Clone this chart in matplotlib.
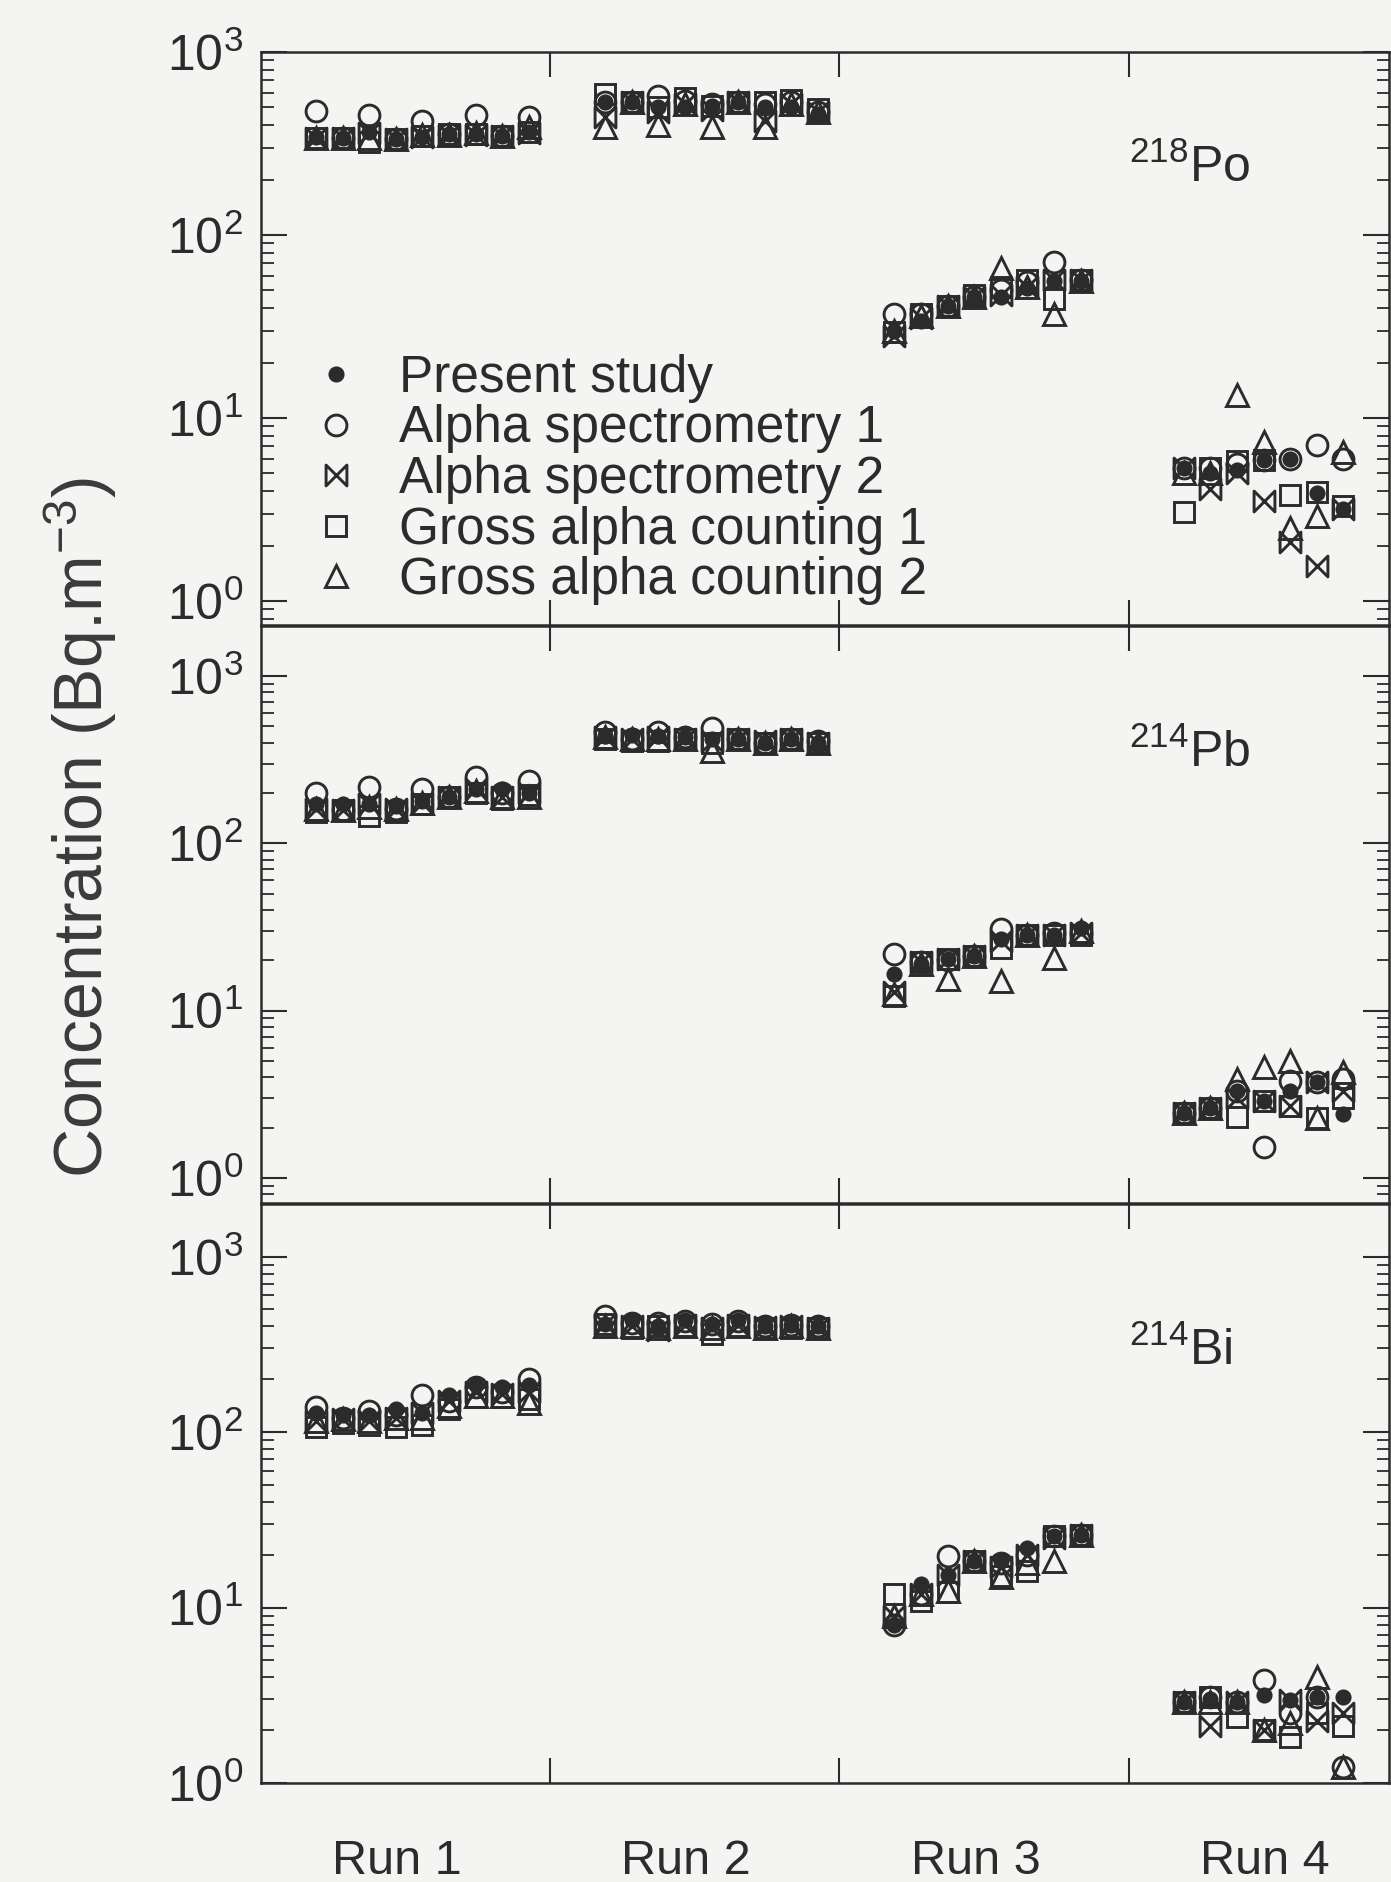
import numpy as np
import matplotlib
matplotlib.use("Agg")
import matplotlib.pyplot as plt
from matplotlib.path import Path
from matplotlib.ticker import LogLocator, NullFormatter, FixedLocator

plt.rcParams['font.family'] = ['Liberation Sans', 'DejaVu Sans']
plt.rcParams['mathtext.fontset'] = 'custom'
plt.rcParams['mathtext.rm'] = 'Liberation Sans'
plt.rcParams['mathtext.it'] = 'Liberation Sans'
plt.rcParams['mathtext.bf'] = 'Liberation Sans:bold'

# runs and number of samples in each run
runs = ["Run 1", "Run 2", "Run 3", "Run 4"]
n_samples = [9, 9, 8, 7]
methods = ["Present study", "Alpha spectrometry 1", "Alpha spectrometry 2",
           "Gross alpha counting 1", "Gross alpha counting 2"]

# 218Po (Bq/m3), runs 1-4 one after another
po218_present = [345, 338, 364, 333, 345, 355, 355, 347, 364,
                 535, 535, 500, 500, 505, 535, 500, 500, 460,
                 30, 34, 41, 46, 46, 51, 56, 56,
                 5.3, 5.0, 5.2, 5.9, 6.0, 3.9, 3.2]
po218_alpha1 = [474, 338, 452, 333, 420, 355, 452, 347, 441,
                535, 535, 575, 540, 520, 535, 520, 530, 470,
                37, 37, 41, 46, 50, 55, 71, 57,
                5.3, 5.3, 5.6, 5.9, 6.0, 7.1, 6.0]
po218_alpha2 = [340, 338, 360, 335, 345, 350, 350, 347, 360,
                441, 530, 470, 520, 480, 530, 420, 520, 470,
                28, 35, 41, 46, 47, 52, 57, 57,
                5.3, 4.1, 5.0, 3.5, 2.1, 1.56, 3.2]
po218_gross1 = [338, 338, 322, 333, 347, 355, 355, 347, 364,
                589, 535, 500, 560, 505, 535, 535, 548, 490,
                29.4, 37, 41, 46.7, 52, 56.5, 44.8, 56.5,
                3.06, 5.3, 5.8, 5.9, 3.8, 3.95, 3.3]
po218_gross2 = [338, 338, 340, 333, 350, 350, 360, 347, 390,
                391, 530, 400, 520, 391, 530, 391, 520, 470,
                30, 36, 41, 46, 65.6, 52, 37, 56,
                5.0, 5.0, 13.4, 7.4, 2.5, 2.9, 6.55]

# 214Pb
pb214_present = [171, 171, 171, 167, 180, 190, 210, 211, 200,
                 440, 442, 440, 430, 420, 419, 400, 419, 400,
                 16.5, 19, 20.3, 21.2, 26.7, 28.5, 28.5, 31,
                 2.43, 2.6, 3.3, 2.9, 3.3, 3.75, 2.4]
pb214_alpha1 = [200, 158, 217, 160, 211, 190, 248, 200, 235,
                466, 420, 466, 430, 490, 420, 400, 420, 410,
                21.7, 19.4, 20, 21.2, 30.6, 28.5, 29, 29,
                2.43, 2.6, 3.3, 1.54, 3.8, 3.75, 3.9]
pb214_alpha2 = [160, 158, 171, 160, 175, 190, 210, 190, 200,
                430, 420, 430, 420, 410, 420, 410, 420, 400,
                13, 19.4, 20.3, 21.2, 26, 28.5, 28.5, 29,
                2.43, 2.6, 3.0, 2.9, 2.7, 3.75, 3.3]
pb214_gross1 = [154, 158, 146, 154, 171, 190, 200, 185, 195,
                419, 408, 408, 419, 398, 419, 398, 419, 400,
                12.3, 19.4, 20.3, 21.2, 23.8, 28.5, 28.5, 28.5,
                2.43, 2.6, 2.32, 2.9, 2.7, 2.27, 3.0]
pb214_gross2 = [160, 158, 165, 160, 175, 190, 205, 190, 190,
                430, 420, 420, 420, 358, 420, 400, 420, 400,
                12.6, 19, 15.4, 21.2, 15.1, 28.5, 20.7, 30,
                2.43, 2.6, 3.9, 4.6, 5.0, 2.27, 4.3]

# 214Bi
bi214_present = [128, 125, 125, 135, 128, 162, 185, 180, 185,
                 413, 435, 403, 435, 413, 435, 400, 410, 400,
                 8.0, 13.6, 15.4, 18.4, 18.4, 21.9, 25.5, 26,
                 2.9, 3.0, 2.9, 3.16, 2.96, 3.1, 3.1]
bi214_alpha1 = [139, 120, 132, 125, 162, 150, 180, 170, 200,
                458, 420, 420, 430, 413, 430, 400, 410, 400,
                8.0, 12, 19.6, 18.4, 18, 20, 25.5, 26,
                2.9, 3.1, 2.9, 3.84, 2.5, 3.1, 1.24]
bi214_alpha2 = [115, 118, 115, 120, 128, 150, 170, 165, 170,
                413, 400, 380, 410, 390, 410, 395, 400, 390,
                9.0, 12, 15.4, 18.4, 17, 20, 25, 26,
                2.9, 2.1, 2.9, 2.0, 2.96, 2.27, 2.5]
bi214_gross1 = [107, 113, 110, 107, 110, 135, 158, 158, 154,
                413, 393, 403, 403, 363, 403, 393, 393, 390,
                11.9, 10.9, 12.2, 18.4, 15.1, 16.1, 25.5, 26,
                2.9, 3.1, 2.38, 2.0, 1.83, 2.5, 2.1]
bi214_gross2 = [115, 118, 115, 120, 120, 140, 160, 160, 146,
                400, 400, 390, 400, 390, 400, 390, 400, 390,
                9.0, 12, 12.4, 18.4, 15, 18, 18.4, 26,
                2.9, 2.9, 2.9, 2.0, 2.2, 4.0, 1.24]

ink = "#2b2b2b"
paper = "#f4f4f2"

# bowtie marker (two triangles tip to tip)
bowtie = Path([(-1, -1), (-1, 1), (1, -1), (1, 1), (-1, -1)],
              [Path.MOVETO, Path.LINETO, Path.LINETO, Path.LINETO, Path.CLOSEPOLY])
styles = [("o", 9.5, ink), ("o", 15, "none"), (bowtie, 15, "none"),
          ("s", 15, "none"), ("^", 15.5, "none")]

# sample positions inside each run
xpos = np.concatenate([r + 0.19 + 0.092 * np.arange(n) for r, n in enumerate(n_samples)])

fig = plt.figure(figsize=(13.91, 18.82), dpi=100, facecolor=paper)

panels = [
    ([0.1876, 0.6679, 0.811, 0.3045], (10 ** -0.131, 1e3),
     [po218_present, po218_alpha1, po218_alpha2, po218_gross1, po218_gross2],
     r"$^{218}$Po", 195),
    ([0.1876, 0.3608, 0.811, 0.3066], (10 ** -0.15, 10 ** 3.30),
     [pb214_present, pb214_alpha1, pb214_alpha2, pb214_gross1, pb214_gross2],
     r"$^{214}$Pb", 285),
    ([0.1876, 0.0526, 0.811, 0.3077], (1, 10 ** 3.30),
     [bi214_present, bi214_alpha1, bi214_alpha2, bi214_gross1, bi214_gross2],
     r"$^{214}$Bi", 240),
]

axes = []
for i, (pos, ylim, series, label, label_y) in enumerate(panels):
    ax = fig.add_axes(pos, facecolor=paper)
    for vals, name, (mk, ms, fc) in zip(series, methods, styles):
        ax.plot(xpos, vals, linestyle="none", marker=mk, ms=ms, mfc=fc,
                mec=ink, mew=2.1, label=name)
    ax.set_yscale("log")
    ax.set_ylim(*ylim)
    ax.set_xlim(0, 3.9)
    ax.yaxis.set_major_locator(LogLocator(base=10, numticks=10))
    ax.yaxis.set_minor_locator(LogLocator(base=10, subs=np.arange(2, 10), numticks=20))
    ax.yaxis.set_minor_formatter(NullFormatter())
    ax.xaxis.set_major_locator(FixedLocator([1, 2, 3]))
    ax.set_xticklabels([])
    ax.set_xticks([r + 0.47 for r in range(len(runs))], minor=True)
    if i == 2:
        ax.set_xticklabels(runs, minor=True)
    else:
        ax.set_xticklabels([], minor=True)
    ax.tick_params(axis="y", which="both", direction="in", left=True, right=True,
                   colors=ink, labelsize=36, pad=13)
    ax.tick_params(axis="y", which="major", length=19, width=1.5)
    ax.tick_params(axis="y", which="minor", length=9, width=1.3)
    ax.tick_params(axis="x", which="major", direction="in", top=True, bottom=True,
                   length=18, width=1.5, colors=ink)
    ax.tick_params(axis="x", which="minor", length=0, labelsize=35, pad=40,
                   colors=ink)
    for sp in ax.spines.values():
        sp.set_linewidth(1.8)
        sp.set_color(ink)
    ax.text(3.0, label_y, label, fontsize=36, color=ink, ha="left", va="baseline")
    axes.append(ax)

axes[0].legend(loc="upper left", bbox_to_anchor=(0.0482, 0.473), frameon=False,
               fontsize=37, handlelength=0.8, handletextpad=0.825, labelspacing=0.03,
               borderpad=0, borderaxespad=0, labelcolor=ink)

fig.text(0.058, 0.56, "Concentration (Bq.m$^{-3}$)", rotation=90, ha="center",
         va="center", fontsize=49, color="#3a3a3a")

fig.savefig("out.png", dpi=100, facecolor=paper)
